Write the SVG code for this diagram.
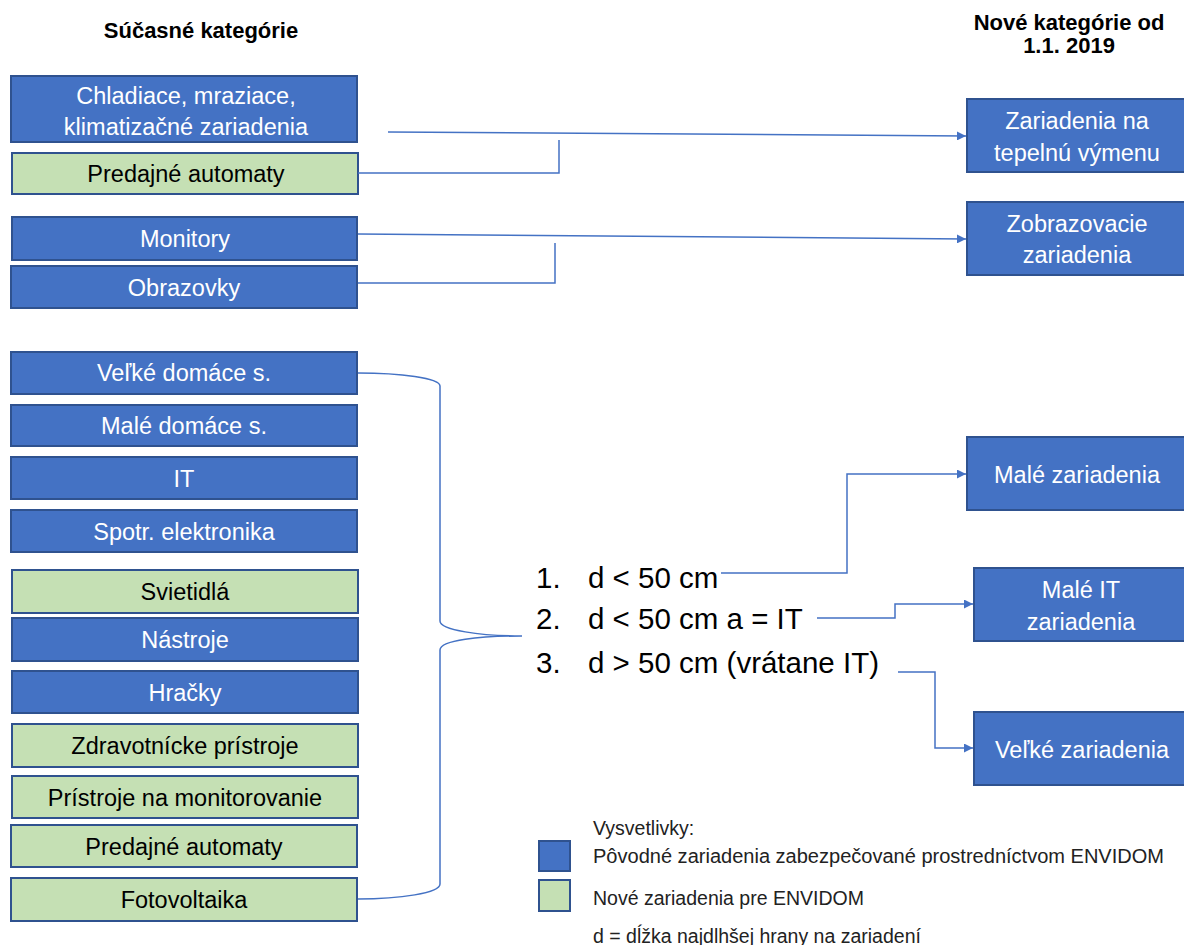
<svg xmlns="http://www.w3.org/2000/svg" width="1184" height="945" viewBox="0 0 1184 945">
<style>
.b{fill:#4472C4;stroke:#2F528F;stroke-width:2}
.g{fill:#C5E0B4;stroke:#2F528F;stroke-width:2}
.tw{font-family:"Liberation Sans",Arial,sans-serif;font-size:23.5px;fill:#fff;text-anchor:middle}
.tk{font-family:"Liberation Sans",Arial,sans-serif;font-size:23.5px;fill:#000;text-anchor:middle}
.h{font-family:"Liberation Sans",Arial,sans-serif;font-size:22px;font-weight:bold;fill:#000;text-anchor:middle}
.l{font-family:"Liberation Sans",Arial,sans-serif;font-size:29.5px;fill:#000}
.lg{font-family:"Liberation Sans",Arial,sans-serif;font-size:19.5px;fill:#222}
.c{fill:none;stroke:#4472C4;stroke-width:1.5}
</style>
<defs>
<marker id="ah" viewBox="0 0 10 10" refX="10" refY="5" markerWidth="6" markerHeight="6" orient="auto" markerUnits="strokeWidth">
<path d="M0,0 L10,5 L0,10 z" fill="#4472C4"/>
</marker>
</defs>
<rect width="1184" height="945" fill="#fff"/>
<text class="h" x="201" y="38">Súčasné kategórie</text>
<text class="h" x="1069" y="30">Nové kategórie od</text>
<text class="h" x="1069" y="53">1.1. 2019</text>

<g id="n-chladiace"><rect class="b" x="11" y="76" width="346" height="66"/><text class="tw" x="186" y="104">Chladiace, mraziace,</text><text class="tw" x="186" y="135">klimatizačné zariadenia</text></g>
<g id="n-predajne1"><rect class="g" x="12" y="153" width="346" height="41"/><text class="tk" x="186" y="182">Predajné automaty</text></g>
<g id="n-monitory"><rect class="b" x="12" y="217" width="345" height="43"/><text class="tw" x="185" y="247">Monitory</text></g>
<g id="n-obrazovky"><rect class="b" x="11" y="266" width="346" height="42"/><text class="tw" x="184" y="296">Obrazovky</text></g>

<g id="n-velke-domace"><rect class="b" x="11" y="352" width="346" height="42"/><text class="tw" x="184" y="381">Veľké domáce s.</text></g>
<g id="n-male-domace"><rect class="b" x="11" y="405" width="346" height="41"/><text class="tw" x="184" y="434">Malé domáce s.</text></g>
<g id="n-it"><rect class="b" x="11" y="457" width="346" height="42"/><text class="tw" x="184" y="487">IT</text></g>
<g id="n-spotr"><rect class="b" x="11" y="510" width="346" height="42"/><text class="tw" x="184" y="540">Spotr. elektronika</text></g>
<g id="n-svietidla"><rect class="g" x="12" y="570" width="346" height="43"/><text class="tk" x="185" y="600">Svietidlá</text></g>
<g id="n-nastroje"><rect class="b" x="12" y="618" width="346" height="43"/><text class="tw" x="185" y="648">Nástroje</text></g>
<g id="n-hracky"><rect class="b" x="12" y="671" width="346" height="42"/><text class="tw" x="185" y="701">Hračky</text></g>
<g id="n-zdravotnicke"><rect class="g" x="12" y="724" width="346" height="43"/><text class="tk" x="185" y="754">Zdravotnícke prístroje</text></g>
<g id="n-pristroje"><rect class="g" x="12" y="776" width="346" height="42"/><text class="tk" x="185" y="806">Prístroje na monitorovanie</text></g>
<g id="n-predajne2"><rect class="g" x="11" y="825" width="346" height="42"/><text class="tk" x="184" y="855">Predajné automaty</text></g>
<g id="n-fotovoltaika"><rect class="g" x="11" y="878" width="346" height="43"/><text class="tk" x="184" y="908">Fotovoltaika</text></g>

<g id="n-tepelnu"><rect class="b" x="967" y="99" width="222" height="73"/><text class="tw" x="1077" y="129">Zariadenia na</text><text class="tw" x="1077" y="161">tepelnú výmenu</text></g>
<g id="n-zobrazovacie"><rect class="b" x="967" y="202" width="222" height="73"/><text class="tw" x="1077" y="232">Zobrazovacie</text><text class="tw" x="1077" y="263">zariadenia</text></g>
<g id="n-male"><rect class="b" x="967" y="437" width="222" height="73"/><text class="tw" x="1077" y="483">Malé zariadenia</text></g>
<g id="n-male-it"><rect class="b" x="974" y="568" width="215" height="73"/><text class="tw" x="1081" y="598">Malé IT</text><text class="tw" x="1081" y="630">zariadenia</text></g>
<g id="n-velke"><rect class="b" x="974" y="712" width="215" height="73"/><text class="tw" x="1082" y="758">Veľké zariadenia</text></g>

<g id="n-list">
<text class="l" x="536" y="588">1.</text><text class="l" x="588" y="588">d &lt; 50 cm</text>
<text class="l" x="536" y="629">2.</text><text class="l" x="588" y="629">d &lt; 50 cm a = IT</text>
<text class="l" x="536" y="673">3.</text><text class="l" x="588" y="673">d &gt; 50 cm (vrátane IT)</text>
</g>

<g id="connectors">
<path class="c" d="M388,132 L966,136" marker-end="url(#ah)"/>
<path class="c" d="M358,173 L559,173 L559,140"/>
<path class="c" d="M358,234 L966,239" marker-end="url(#ah)"/>
<path class="c" d="M358,283 L555,283 L555,243"/>
<path class="c" d="M358,373 C400,373 440,378 440,386 L440,621 C440,630 480,636 522,636 C480,636 440,640 440,650 L440,884 C440,893 400,899 358,899"/>
<path class="c" d="M721,573 L847,573 L847,474 L966,474" marker-end="url(#ah)"/>
<path class="c" d="M817,618 L895,618 L895,604 L973,604" marker-end="url(#ah)"/>
<path class="c" d="M898,672 L935,672 L935,748 L973,748" marker-end="url(#ah)"/>
</g>

<g id="legend">
<text class="lg" x="593" y="835">Vysvetlivky:</text>
<rect class="b" x="539" y="841" width="31" height="30"/>
<text class="lg" x="593" y="863" textLength="571" lengthAdjust="spacingAndGlyphs">Pôvodné zariadenia zabezpečované prostredníctvom ENVIDOM</text>
<rect class="g" x="539" y="880" width="31" height="31"/>
<text class="lg" x="593" y="905">Nové zariadenia pre ENVIDOM</text>
<text class="lg" x="593" y="943">d = dĺžka najdlhšej hrany na zariadení</text>
</g>
</svg>
